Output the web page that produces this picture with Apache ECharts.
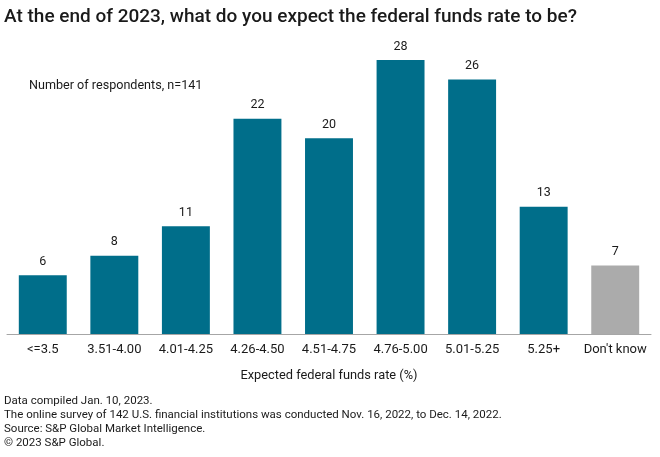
<!DOCTYPE html>
<html><head><meta charset="utf-8">
<script src="https://cdn.jsdelivr.net/npm/echarts@6/dist/echarts.min.js"></script>
<style>html,body{margin:0;padding:0;background:#fff;}#c{width:660px;height:457px;}</style>
</head><body><div id="c"></div>
<script>
const categories = ["<=3.5","3.51-4.00","4.01-4.25","4.26-4.50","4.51-4.75","4.76-5.00","5.01-5.25","5.25+","Don't know"];
const respondents = [6, 8, 11, 22, 20, 28, 26, 13, 7];
const barColors = ["#006e8a","#006e8a","#006e8a","#006e8a","#006e8a","#006e8a","#006e8a","#006e8a","#ababab"];
const footnotes = [
  "Data compiled Jan. 10, 2023.",
  "The online survey of 142 U.S. financial institutions was conducted Nov. 16, 2022, to Dec. 14, 2022.",
  "Source: S&P Global Market Intelligence.",
  "\u00a9 2023 S&P Global."
];
const FONT = "Roboto, 'Noto Sans', sans-serif";
const chart = echarts.init(document.getElementById('c'));
chart.setOption({
  animation: false,
  textStyle: { fontFamily: FONT },
  title: [
    { text: "At the end of 2023, what do you expect the federal funds rate to be?", left: 4, top: 8, padding: 0,
      textStyle: { fontSize: 19, fontWeight: 500, color: '#1a1a1a', fontFamily: FONT } },
    { text: "Number of respondents, n=141", left: 29, top: 79, padding: 0,
      textStyle: { fontSize: 12.6, fontWeight: 'normal', color: '#1a1a1a', fontFamily: FONT } },
    { text: footnotes.join("\n"), left: 4, top: 394, padding: 0,
      textStyle: { fontSize: 11.5, fontWeight: 'normal', color: '#1a1a1a', lineHeight: 14, fontFamily: FONT } }
  ],
  grid: { left: 7, right: 9, top: 60, bottom: 123, containLabel: false },
  xAxis: {
    type: 'category', data: categories,
    axisLine: { lineStyle: { color: '#a6a6a6', width: 1 } },
    axisTick: { show: false },
    axisLabel: { color: '#1a1a1a', fontSize: 13, margin: 9, interval: 0 },
    name: "Expected federal funds rate (%)", nameLocation: 'middle', nameGap: 35,
    nameTextStyle: { color: '#1a1a1a', fontSize: 12.8 }
  },
  yAxis: { type: 'value', min: 0, max: 28, show: false, splitLine: { show: false } },
  series: [{
    type: 'bar', barCategoryGap: '33%',
    data: respondents.map((v, i) => ({ value: v, itemStyle: { color: barColors[i] } })),
    label: { show: true, position: 'top', distance: 7, color: '#1a1a1a', fontSize: 12.5 }
  }]
});
</script></body></html>
